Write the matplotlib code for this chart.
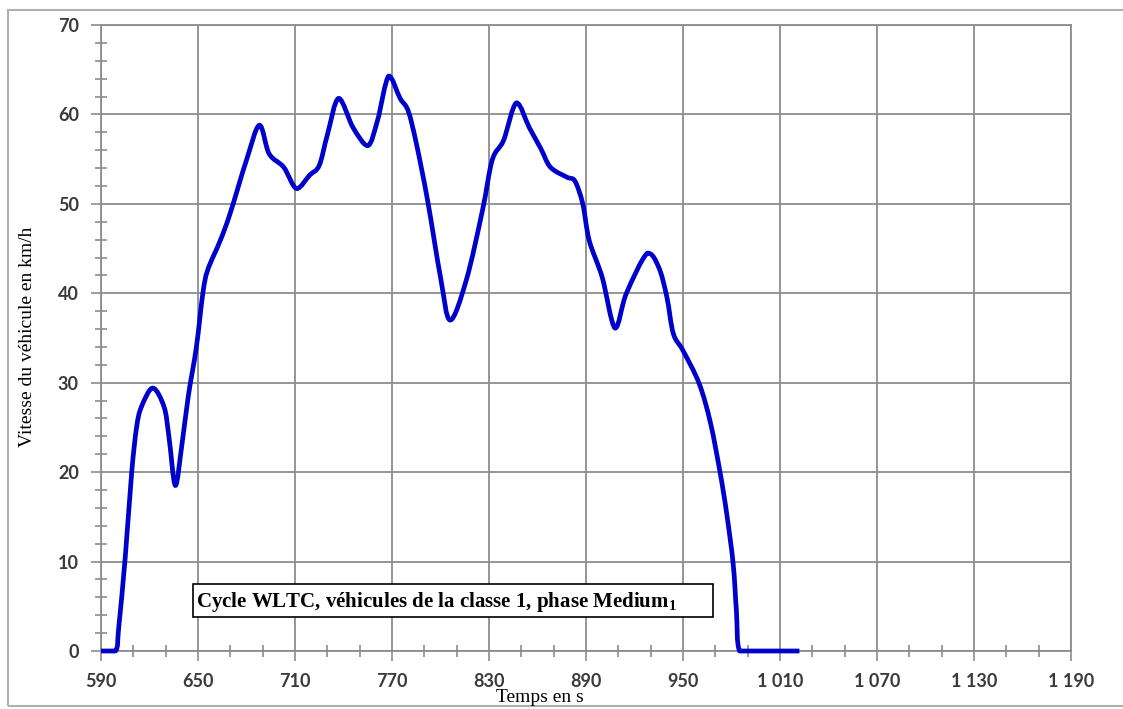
import matplotlib
matplotlib.use("Agg")
import matplotlib.pyplot as plt
from matplotlib.patches import Rectangle, PathPatch
from matplotlib.path import Path
from matplotlib.ticker import FixedLocator, FuncFormatter

plt.rcParams["mathtext.fontset"] = "custom"
plt.rcParams["mathtext.bf"] = "Liberation Serif:bold"
plt.rcParams["mathtext.rm"] = "Liberation Serif:bold"

# WLTC classe 1, phase Medium : points
temps = [590, 599, 601, 605, 609, 612, 615, 622, 629, 632, 636, 640, 644, 649,
         653, 656, 664, 670, 680, 688, 694, 703, 711, 719, 725, 730, 737,
         746, 755, 761, 768, 775, 780, 785, 792, 800, 806, 816, 826, 832,
         839, 847, 855, 862, 868, 878, 883, 888, 892, 900, 908, 915, 928,
         935, 940, 944, 950, 960, 967, 973, 977, 981, 983, 985, 1022]
vitesse = [0, 0, 2.7, 10.5, 20, 25, 27.3, 29.4, 27.3, 24, 18.5, 23, 28.5, 34,
           40, 42.6, 46, 49, 54.9, 58.8, 55.6, 54.1, 51.7, 53.2, 54.3, 57.7, 61.8,
           58.5, 56.5, 59.3, 64.3, 61.8, 60.4, 56.8, 50.4, 41.8, 37, 41.5, 49.3, 54.9,
           57.1, 61.3, 58.5, 56.2, 54.1, 53, 52.6, 50, 45.9, 41.8, 36.1, 40, 44.5,
           42.9, 39.6, 35.5, 33.6, 29.9, 25.5, 19.9, 15.4, 9.8, 4.6, 0, 0]

ticks_x = list(range(590, 1191, 60))
titre = "Cycle WLTC, véhicules de la classe 1, phase Medium$_\\mathbf{1}$"
label_x = "Temps en s"
label_y = "Vitesse du véhicule en km/h"


def clamp(v, a, b):
    return min(max(v, min(a, b)), max(a, b))


# courbe lissee comme dans Excel (Bezier passant par les points, sans depassement)
def smooth_path(x, y, k=1 / 6):
    verts = [(x[0], y[0])]
    codes = [Path.MOVETO]
    n = len(x)
    for i in range(n - 1):
        x0, y0 = (x[i - 1], y[i - 1]) if i > 0 else (x[i], y[i])
        x3, y3 = (x[i + 2], y[i + 2]) if i + 2 < n else (x[i + 1], y[i + 1])
        c1 = (clamp(x[i] + (x[i + 1] - x0) * k, x[i], x[i + 1]),
              clamp(y[i] + (y[i + 1] - y0) * k, y[i], y[i + 1]))
        c2 = (clamp(x[i + 1] - (x3 - x[i]) * k, x[i], x[i + 1]),
              clamp(y[i + 1] - (y3 - y[i]) * k, y[i], y[i + 1]))
        verts += [c1, c2, (x[i + 1], y[i + 1])]
        codes += [Path.CURVE4] * 3
    return Path(verts, codes)


W, H = 1123, 709
fig = plt.figure(figsize=(W / 100, H / 100), dpi=100)
fig.patches.append(Rectangle((8 / W, 3 / H), 1.2, 1 - 13 / H, transform=fig.transFigure,
                             fill=False, edgecolor="#b0b0b0", linewidth=1.5))

ax = fig.add_axes([101 / W, 58 / H, 970 / W, 626 / H])
ax.add_patch(PathPatch(smooth_path(temps, vitesse), fill=False, edgecolor="#0000cc",
                       linewidth=3.4, joinstyle="round", capstyle="butt", zorder=3,
                       clip_on=False))

ax.set_xlim(590, 1190)
ax.set_ylim(0, 70)
ax.xaxis.set_major_locator(FixedLocator(ticks_x))
ax.xaxis.set_minor_locator(FixedLocator(range(590, 1191, 20)))
ax.yaxis.set_major_locator(FixedLocator(range(0, 71, 10)))
ax.yaxis.set_minor_locator(FixedLocator(range(0, 71, 2)))
ax.xaxis.set_major_formatter(FuncFormatter(lambda v, p: "{:,}".format(int(v)).replace(",", " ")))

ax.grid(True, which="major", color="#8c8c8c", linewidth=1.3)
for s in ax.spines.values():
    s.set_color("#8c8c8c")
    s.set_linewidth(1.3)

ax.tick_params(which="major", direction="out", length=7, width=1.2, color="#8c8c8c",
               labelsize=13, labelcolor="#3a3a3a", pad=9)
ax.tick_params(which="minor", direction="inout", length=9, width=1.2, color="#8c8c8c")
for lab in ax.get_xticklabels() + ax.get_yticklabels():
    lab.set_family("Lato")
    lab.set_fontweight("bold")

# cartouche du titre
ax.add_patch(Rectangle((647, 3.8), 321.5, 3.7, facecolor="white", edgecolor="black",
                       linewidth=1.2, zorder=4))
ax.text(648.8, 5.5, titre, family="Liberation Serif", fontweight="bold", fontsize=15,
        va="center", ha="left", zorder=5)

fig.text(540 / W, 1 - 697 / H, label_x, family="Liberation Serif", fontsize=14,
         ha="center", va="center")
fig.text(28 / W, 1 - 337 / H, label_y, family="Liberation Serif", fontsize=14,
         rotation=90, ha="center", va="center")

fig.savefig("out.png", dpi=100)
